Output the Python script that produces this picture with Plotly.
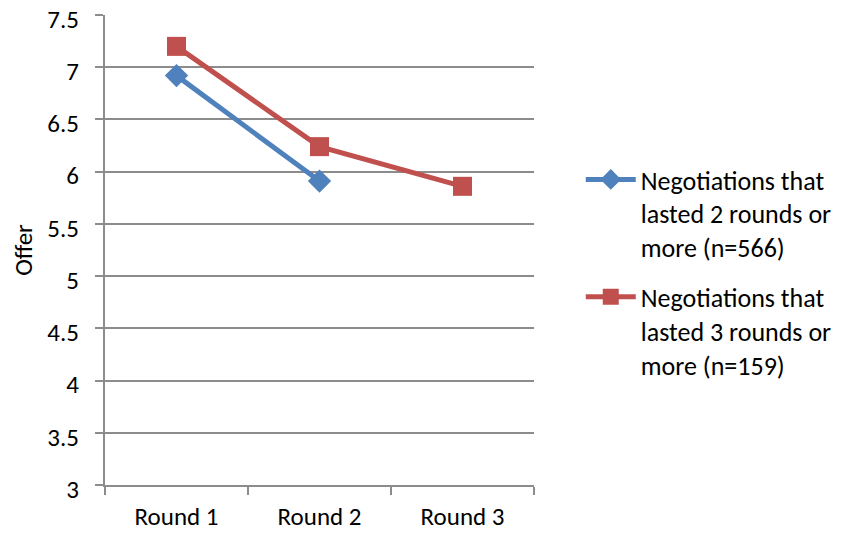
import plotly.graph_objects as go

categories = ["Round 1", "Round 2", "Round 3"]
series2_name = "Negotiations that<br>lasted 2 rounds or<br>more (n=566)"
series2_values = [6.92, 5.91, None]
series3_name = "Negotiations that<br>lasted 3 rounds or<br>more (n=159)"
series3_values = [7.2, 6.24, 5.86]
y_ticks = [3, 3.5, 4, 4.5, 5, 5.5, 6, 6.5, 7, 7.5]
y_ticktext = ["3", "3.5", "4", "4.5", "5", "5.5", "6", "6.5", "7", "7.5"]

FONT = "Carlito, Lato, 'Open Sans', sans-serif"
GRID = "#8c8c8c"

fig = go.Figure()
fig.add_trace(go.Scatter(
    x=categories, y=series2_values, name=series2_name, mode="lines+markers",
    legendgroup="a",
    line=dict(color="#4F81BD", width=5),
    marker=dict(symbol="diamond", size=18, color="#4F81BD"),
))
fig.add_trace(go.Scatter(
    x=categories, y=series3_values, name=series3_name, mode="lines+markers",
    legendgroup="b",
    line=dict(color="#C0504D", width=5),
    marker=dict(symbol="square", size=19, color="#C0504D"),
))

fig.update_layout(
    width=836, height=527,
    margin=dict(l=97, r=304, t=7, b=50),
    paper_bgcolor="white", plot_bgcolor="white",
    font=dict(family=FONT, size=25, color="black"),
    showlegend=True,
    legend=dict(x=1.109, y=0.70, xanchor="left", yanchor="top",
                font=dict(size=26), tracegroupgap=13, itemwidth=50,
                valign="top", bgcolor="rgba(0,0,0,0)"),
    xaxis=dict(
        type="category", range=[-0.5, 2.5], tickson="boundaries",
        ticks="outside", ticklen=8, tickwidth=2, tickcolor=GRID,
        showgrid=False, showline=True, linecolor=GRID, linewidth=2,
        ticklabelstandoff=8, tickfont=dict(size=25), automargin=False,
    ),
    yaxis=dict(
        range=[3, 7.5005], tickvals=y_ticks, ticktext=y_ticktext,
        ticks="outside", ticklen=8, tickwidth=2, tickcolor=GRID,
        showgrid=True, gridcolor=GRID, gridwidth=2,
        showline=True, linecolor=GRID, linewidth=2, zeroline=False,
        ticklabelstandoff=11, ticklabelshift=4, tickfont=dict(size=25),
        automargin=False, ticklabeloverflow="allow",
        title=dict(text="Offer", font=dict(size=25), standoff=12),
    ),
)

fig.write_html("out.html", config={"displayModeBar": False})
